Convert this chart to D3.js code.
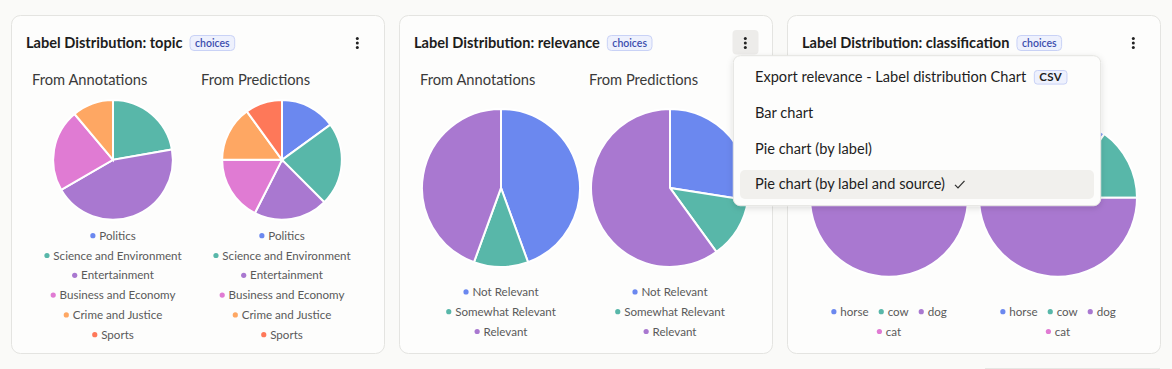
<!DOCTYPE html>
<html>
<head>
<meta charset="utf-8">
<style>
body { margin: 0; background: #fafaf8; }
svg { display: block; font-family: Lato, "Noto Sans", sans-serif; }
.card { fill: #fdfdfc; stroke: #e4e4e1; }
.title { font-size: 14.6px; font-weight: 700; fill: #1d1d1d; }
.badge rect { fill: #eef1fd; stroke: #c9d2f6; }
.badge text { font-size: 10.5px; fill: #3c4eae; font-weight: 600; }
.sub { font-size: 14.7px; fill: #3a3a3a; }
.legend text, .legendtxt { font-size: 11.6px; fill: #5a5a5a; }
.menu text { font-size: 14.6px; fill: #1e1e1e; }
</style>
</head>
<body>
<svg width="1172" height="369"></svg>
<script src="https://cdn.jsdelivr.net/npm/d3@7"></script>
<script>
// label sets + counts
var topicLabels = ["Politics", "Science and Environment", "Entertainment", "Business and Economy", "Crime and Justice", "Sports"];
var topicAnnotations = [0, 2, 4, 2, 1, 0];
var topicPredictions = [6, 9, 8, 7, 6, 4];

var relevanceLabels = ["Not Relevant", "Somewhat Relevant", "Relevant"];
var relevanceAnnotations = [4, 1, 4];
var relevancePredictions = [11, 5, 24];

var classLabels = ["horse", "cow", "dog", "cat"];
var classAnnotations = [0, 0, 9, 0];
var classPredictions = [4, 6, 30, 0];

var palette = ["#6b88ef", "#58b7a9", "#a978d0", "#e07bd3", "#fea763", "#fe7859"];
var sources = ["From Annotations", "From Predictions"];

var menuItems = ["Export relevance - Label distribution Chart", "Bar chart", "Pie chart (by label)", "Pie chart (by label and source)"];

var cards = [
  {name: "topic", labels: topicLabels, series: [topicAnnotations, topicPredictions]},
  {name: "relevance", labels: relevanceLabels, series: [relevanceAnnotations, relevancePredictions]},
  {name: "classification", labels: classLabels, series: [classAnnotations, classPredictions]}
];

var svg = d3.select("svg");
var cardW = 373, cardTop = 15.5, cardH = 338;
var color = function(i) { return palette[i % palette.length]; };
var pie = d3.pie().sort(null).value(function(d) { return d; });

function measure(str, cls) {
  var t = svg.append("text").attr("class", cls).text(str);
  var w = t.node().getComputedTextLength();
  t.remove();
  return w;
}

// greedy wrap like a chart legend
function legendRows(labels) {
  var rows = [], cur = [], curW = 0, maxW = 138;
  labels.forEach(function(l, i) {
    var w = 9 + measure(l, "legendtxt");
    if (cur.length && curW + 10 + w > maxW) { rows.push({items: cur, w: curW}); cur = []; curW = 0; }
    cur.push({label: l, i: i, w: w});
    curW += (cur.length > 1 ? 10 : 0) + w;
  });
  rows.push({items: cur, w: curW});
  return rows;
}

cards.forEach(function(c, k) {
  var x0 = 11 + k * 388;
  var g = svg.append("g").attr("transform", "translate(" + x0 + ",0)");
  g.append("rect").attr("class", "card")
    .attr("x", 0.5).attr("y", cardTop).attr("width", cardW).attr("height", cardH).attr("rx", 9);

  var title = g.append("text").attr("class", "title")
    .attr("x", 15).attr("y", 48).text("Label Distribution: " + c.name);
  var tw = title.node().getComputedTextLength();
  var badge = g.append("g").attr("class", "badge").attr("transform", "translate(" + (15 + tw + 7.5) + ",35.5)");
  var bt = badge.append("text").attr("x", 5).attr("y", 11).text("choices");
  var bw = bt.node().getComputedTextLength() + 10;
  badge.insert("rect", "text").attr("width", bw).attr("height", 15).attr("rx", 4);

  if (k == 1) {
    g.append("rect").attr("x", 333.5).attr("y", 30).attr("width", 26).attr("height", 24.5)
      .attr("rx", 4).attr("fill", "#edecea");
  }
  g.selectAll(".kebab").data([38.5, 43, 47.5]).enter().append("circle")
    .attr("cx", 346.3).attr("cy", function(d) { return d; }).attr("r", 1.5).attr("fill", "#222");

  var rows = legendRows(c.labels);
  var firstRow = Math.max(235.7, 331.5 - (rows.length - 1) * 19.8);
  var top = 100, bottom = firstRow - 16;
  var cy = (top + bottom) / 2;
  var r = Math.min(79, (bottom - top) / 2);
  var arc = d3.arc().innerRadius(0).outerRadius(r);

  c.series.forEach(function(vals, s) {
    var cx = 102 + s * 169;
    // last card's subtitles sit under the open menu, so skip them
    if (k < 2) g.append("text").attr("class", "sub").attr("x", 21 + s * 169).attr("y", 85).text(sources[s]);

    g.append("g").attr("transform", "translate(" + cx + "," + cy + ")")
      .selectAll("path")
      .data(pie(vals).filter(function(d) { return d.value > 0; }))
      .enter().append("path")
      .attr("d", arc)
      .attr("fill", function(d) { return color(d.index); })
      .attr("stroke", "#fff")
      .attr("stroke-width", 2);

    var lg = g.append("g").attr("class", "legend");
    rows.forEach(function(row, ri) {
      var y = firstRow + ri * 19.8;
      var xx = cx - row.w / 2;
      row.items.forEach(function(it) {
        lg.append("circle").attr("cx", xx + 2.6).attr("cy", y).attr("r", 2.6).attr("fill", color(it.i));
        lg.append("text").attr("x", xx + 9).attr("y", y + 4).text(it.label);
        xx += it.w + 10;
      });
    });
  });
});

// faint edge of the element below
svg.append("line").attr("x1", 985).attr("x2", 1160).attr("y1", 368.5).attr("y2", 368.5)
  .attr("stroke", "#e6e6e3");

// open dropdown from the relevance card
var defs = svg.append("defs");
var f = defs.append("filter").attr("id", "shadow").attr("x", -0.1).attr("y", -0.2).attr("width", 1.2).attr("height", 1.5);
f.append("feDropShadow").attr("dx", 0).attr("dy", 2).attr("stdDeviation", 3)
  .attr("flood-color", "#000").attr("flood-opacity", 0.13);

var menu = svg.append("g").attr("class", "menu").attr("transform", "translate(733.3,55.7)");
menu.append("rect").attr("width", 367.4).attr("height", 150).attr("rx", 7)
  .attr("fill", "#fdfdfc").attr("stroke", "#e4e4e1").attr("filter", "url(#shadow)");
menu.append("rect").attr("x", 6.7).attr("y", 114.3).attr("width", 354).attr("height", 29).attr("rx", 5)
  .attr("fill", "#f1f0ed");

menuItems.forEach(function(m, i) {
  var y = 21.6 + i * 35.7;
  var t = menu.append("text").attr("x", 21.7).attr("y", y + 5).text(m);
  var w = t.node().getComputedTextLength();
  if (i == 0) {
    var b = menu.append("g").attr("class", "badge").attr("transform", "translate(" + (21.7 + w + 8) + "," + (y - 6.8) + ")");
    var ct = b.append("text").attr("x", 5).attr("y", 10.5).style("font-size", "11.5px").style("font-weight", 700)
      .style("letter-spacing", "0.3px").text("CSV");
    b.insert("rect", "text").attr("width", ct.node().getComputedTextLength() + 10).attr("height", 13.6).attr("rx", 3);
  }
  if (i == menuItems.length - 1) {
    var x = 21.7 + w + 10;
    menu.append("path").attr("d", "M" + x + "," + (y + 0.5) + "l3,3l6.5,-7")
      .attr("fill", "none").attr("stroke", "#333").attr("stroke-width", 1.3);
  }
});
</script>
</body>
</html>
